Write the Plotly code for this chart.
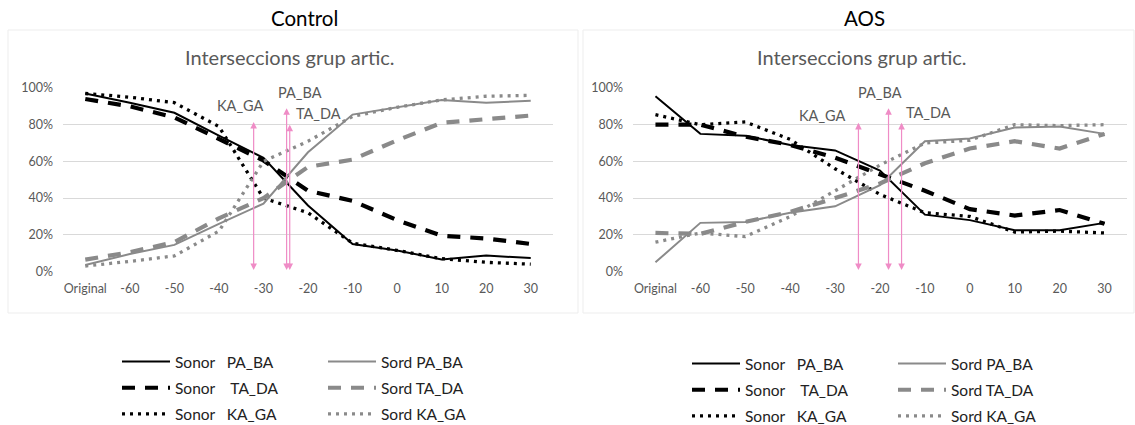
import plotly.graph_objects as go

# Stimulus steps on the x axis
categories = ["Original", "-60", "-50", "-40", "-30", "-20", "-10", "0", "10", "20", "30"]
tick_pct = [0, 0.2, 0.4, 0.6, 0.8, 1.0]
tick_pct_text = ["0%", "20%", "40%", "60%", "80%", "100%"]

# Control group: share of responses (%)
ctrl_sonor_pa = [97, 92, 86.5, 74, 62, 36, 15, 11.5, 6.6, 8.7, 7.3]
ctrl_sonor_ta = [94, 90, 84, 72, 60.5, 44, 38.5, 28, 19.5, 18, 15]
ctrl_sonor_ka = [97, 95, 92, 79, 40, 32, 15.5, 11.5, 7, 5, 4]
ctrl_sord_pa = [3.5, 9.5, 14.5, 26, 37, 65, 85.5, 89.5, 93.5, 92, 93]
ctrl_sord_ta = [6.5, 10.5, 16, 29, 40, 57, 61, 71.5, 81, 83, 85]
ctrl_sord_ka = [3, 5.5, 8.5, 22, 60, 71, 84.5, 89.5, 93.5, 95.5, 96]

# AOS group: share of responses (%)
aos_sonor_pa = [95.5, 75, 74, 69, 66, 55, 31, 28, 22.5, 22.5, 26.5]
aos_sonor_ta = [80, 80, 73.5, 69, 62, 53, 44, 34, 30.5, 33.5, 26]
aos_sonor_ka = [85.5, 80, 81.5, 72, 56, 42, 32, 30, 21.5, 22, 21]
aos_sord_pa = [5, 26.5, 27, 32, 35.5, 47, 71, 72.5, 78.5, 79, 75]
aos_sord_ta = [21, 20.5, 27, 32.5, 40, 48, 59, 67, 71, 67, 75]
aos_sord_ka = [16, 21, 19, 30, 44, 58, 70, 71.5, 80, 79.5, 80]

# Crossover points (step value) and arrow heights (%) per place of articulation
pairs = ["PA_BA", "TA_DA", "KA_GA"]
ctrl_cross = [-24.8, -24.1, -32.2]
ctrl_arrow_top = [89, 80, 81.5]
aos_cross = [-18.1, -15.2, -24.8]
aos_arrow_top = [89, 81, 81]
# Label anchors (step value, %) for the crossover labels
ctrl_label_x = [-21.7, -17.6, -35.2]
ctrl_label_y = [97.4, 86.3, 90.7]
aos_label_x = [-20.0, -9.3, -32.7]
aos_label_y = [97.4, 86.4, 84.8]

FONT = "Lato"
BLACK = "#000000"
GREY = "#8a8a8a"
PINK = "#ef8cc6"
TXT = "#595959"
NB = "\u00a0"

styles = {
    "PA_BA": dict(width=2, dash="solid"),
    "TA_DA": dict(width=4.2, dash="13px,10px"),
    "KA_GA": dict(width=3.3, dash="3px,5px"),
}
# Spacing between "Sonor" and the pair name in the legend
sonor_gap = {"PA_BA": 3, "TA_DA": 4, "KA_GA": 3}

x_idx = list(range(len(categories)))


def step_to_idx(v):
    # "Original" sits one step before -60
    return (v + 70) / 10.0


fig = go.Figure()

panels = [
    ("x", "y", "legend", "legend2",
     [ctrl_sonor_pa, ctrl_sonor_ta, ctrl_sonor_ka],
     [ctrl_sord_pa, ctrl_sord_ta, ctrl_sord_ka]),
    ("x2", "y2", "legend3", "legend4",
     [aos_sonor_pa, aos_sonor_ta, aos_sonor_ka],
     [aos_sord_pa, aos_sord_ta, aos_sord_ka]),
]

for xa, ya, leg_a, leg_b, sonor, sord in panels:
    for p, vals in zip(pairs, sonor):
        fig.add_trace(go.Scatter(
            x=x_idx, y=[v / 100 for v in vals], mode="lines",
            name="Sonor" + NB * sonor_gap[p] + p,
            line=dict(color=BLACK, **styles[p]), xaxis=xa, yaxis=ya,
            legend=leg_a, legendgroup=leg_a + p, cliponaxis=False,
            hoverinfo="skip"))
    for p, vals in zip(pairs, sord):
        fig.add_trace(go.Scatter(
            x=x_idx, y=[v / 100 for v in vals], mode="lines", name="Sord " + p,
            line=dict(color=GREY, **styles[p]), xaxis=xa, yaxis=ya,
            legend=leg_b, legendgroup=leg_b + p, cliponaxis=False,
            hoverinfo="skip"))

annotations = []
for xa, ya, cross, tops, lx, ly in [
        ("x", "y", ctrl_cross, ctrl_arrow_top, ctrl_label_x, ctrl_label_y),
        ("x2", "y2", aos_cross, aos_arrow_top, aos_label_x, aos_label_y)]:
    for p, c, t, tx, ty in zip(pairs, cross, tops, lx, ly):
        xi = step_to_idx(c)
        annotations.append(dict(
            x=xi, y=t / 100, ax=xi, ay=0, xref=xa, yref=ya, axref=xa, ayref=ya,
            text="", showarrow=True, arrowhead=2, startarrowhead=2,
            arrowside="end+start", arrowsize=1.1, startarrowsize=1.1,
            arrowwidth=1.2, arrowcolor=PINK))
        annotations.append(dict(
            x=step_to_idx(tx), y=ty / 100, xref=xa, yref=ya, text=p,
            xanchor="center", yanchor="middle",
            showarrow=False, font=dict(family=FONT, size=14.5, color=TXT)))

W, H = 1135, 425


def px_x(v):
    return v / W


def px_y(v):
    return 1 - v / H


for title, cx in [("Control", 304), ("AOS", 864)]:
    annotations.append(dict(x=px_x(cx), y=px_y(18), xref="paper", yref="paper",
                            text=title, showarrow=False, xanchor="center",
                            yanchor="middle",
                            font=dict(family=FONT, size=20.5, color="#000000")))
for cx in [290, 862]:
    annotations.append(dict(x=px_x(cx), y=px_y(57), xref="paper", yref="paper",
                            text="Interseccions grup artic.", showarrow=False,
                            xanchor="center", yanchor="middle",
                            font=dict(family=FONT, size=20, color=TXT)))

shapes = []
for x0, x1 in [(8, 578), (583, 1134)]:
    shapes.append(dict(type="rect", xref="paper", yref="paper",
                       x0=px_x(x0), x1=px_x(x1), y0=px_y(313), y1=px_y(30),
                       line=dict(color="#ededed", width=1)))

ydom = [px_y(271.5), px_y(88)]
axis_common = dict(range=[-0.5, len(categories) - 0.5], tickvals=x_idx,
                   ticktext=categories, showgrid=False, zeroline=False,
                   showline=False, ticks="", ticklabelstandoff=8,
                   tickfont=dict(family=FONT, size=12.5, color=TXT), fixedrange=True)
yaxis_common = dict(range=[0, 1], tickvals=tick_pct, ticktext=tick_pct_text,
                    showgrid=True, gridcolor="#d9d9d9", gridwidth=1,
                    zeroline=False, showline=False, ticks="", ticklabelstandoff=9,
                    tickfont=dict(family=FONT, size=12.5, color=TXT), fixedrange=True)

legend_common = dict(orientation="v", xanchor="left", yanchor="top",
                     bgcolor="rgba(0,0,0,0)", borderwidth=0, itemwidth=48,
                     tracegroupgap=3, itemclick=False, itemdoubleclick=False,
                     font=dict(family=FONT, size=15.5, color="#222222"))

fig.update_layout(
    width=W, height=H,
    margin=dict(l=0, r=0, t=0, b=0, autoexpand=False),
    paper_bgcolor="white", plot_bgcolor="white", showlegend=True,
    xaxis=dict(domain=[px_x(63), px_x(553)], anchor="y", **axis_common),
    yaxis=dict(domain=ydom, anchor="x", **yaxis_common),
    xaxis2=dict(domain=[px_x(633), px_x(1127)], anchor="y2", **axis_common),
    yaxis2=dict(domain=ydom, anchor="x2", **yaxis_common),
    legend=dict(x=px_x(117), y=px_y(345), **legend_common),
    legend2=dict(x=px_x(323), y=px_y(345), **legend_common),
    legend3=dict(x=px_x(687), y=px_y(347), **legend_common),
    legend4=dict(x=px_x(893), y=px_y(347), **legend_common),
    annotations=annotations, shapes=shapes,
)

fig.write_html("out.html")
